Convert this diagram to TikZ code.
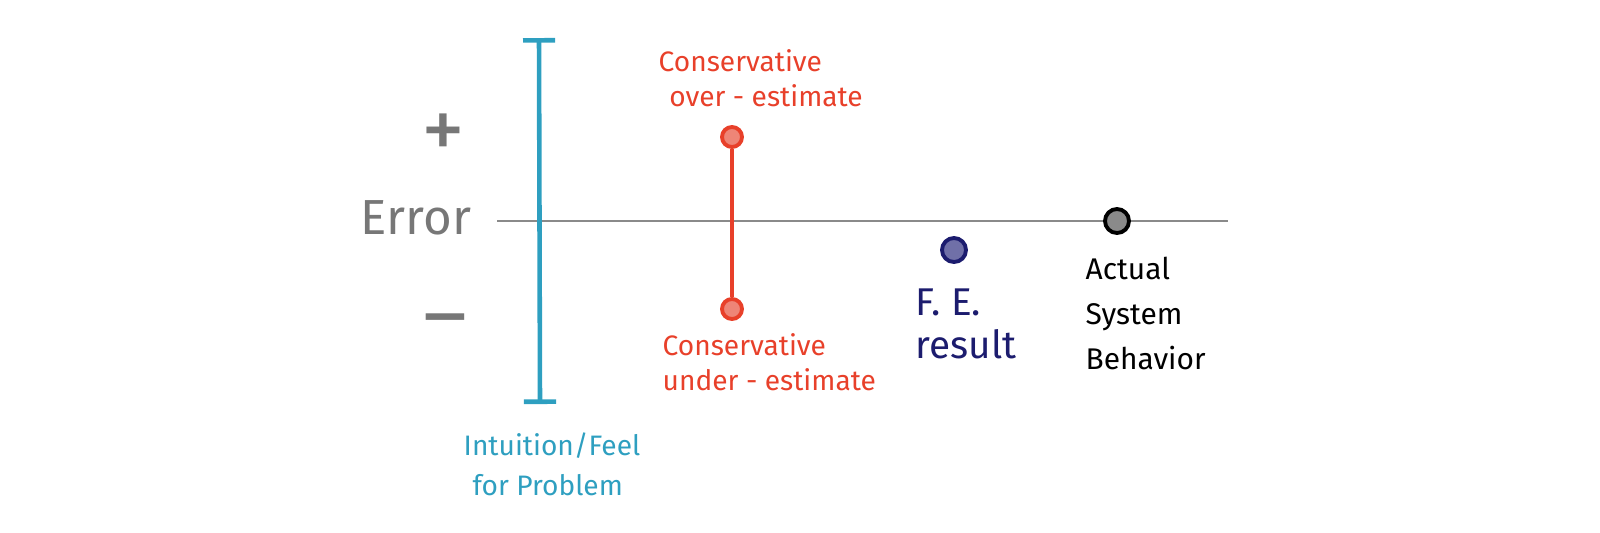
\documentclass[tikz,border=0pt]{standalone}
\usepackage{fontspec}
\setmainfont{Fira Sans}
\usetikzlibrary{arrows.meta, positioning}
\definecolor{intblue}{HTML}{2E9FC0}
\definecolor{consred}{HTML}{E8402A}
\definecolor{consfill}{HTML}{EE8577}
\definecolor{fenavy}{HTML}{1C1C6E}
\definecolor{fefill}{HTML}{7070A8}
\definecolor{axgray}{HTML}{8A8A8A}
\definecolor{errgray}{HTML}{777777}

\begin{document}
\begin{tikzpicture}[x=0.01cm, y=-0.01cm,
    dot/.style={circle, inner sep=0pt, minimum size=0.2cm, line width=1.1pt},
    bigdot/.style={dot, minimum size=0.24cm},
    hand/.style={anchor=north west, align=left, inner sep=0pt}]
    \useasboundingbox (0,0) rectangle (1600,532);

    % Draw the error axis
    \coordinate (axl) at (497,221);
    \coordinate (axr) at (1228,221);
    \draw[axgray, line width=0.5pt] (axl) -- (axr);
    \node[errgray, font=\fontsize{14}{16}\selectfont] (err) at (416,218) {Error};
    \node[errgray, font=\fontsize{25}{27}\selectfont] (plus) at (443,137) {+};
    \node[errgray, font=\fontsize{24}{26}\selectfont] (minus) at (445,329) {–};

    % Draw the band of intuition
    \coordinate (itop) at (539,38);
    \coordinate (ibot) at (540,404);
    \draw[intblue, line width=1.3pt, {Bar[width=3.2mm]}-{Bar[width=3.2mm]}] (itop) -- (ibot);
    \node[hand, intblue, font=\fontsize{8}{12.3}\selectfont] (intu) at (463,432) {Intuition/Feel\\[-1pt]\hspace*{2.5pt}for Problem};

    % Draw the conservative estimates
    \node[dot, draw=consred, fill=consfill] (over) at (732,137) {};
    \node[dot, draw=consred, fill=consfill] (under) at (732,309) {};
    \draw[consred, line width=1.2pt] (over) -- (under);
    \node[hand, consred, font=\fontsize{8}{10}\selectfont] (overtxt) at (658,49) {Conservative\\\hspace*{3pt}over - estimate};
    \node[hand, consred, font=\fontsize{8}{10}\selectfont] (undertxt) at (662,333) {Conservative\\under - estimate};

    % Draw the F.E. result and the actual behavior
    \node[bigdot, draw=fenavy, fill=fefill] (fe) at (954,250) {};
    \node[hand, fenavy, font=\fontsize{11}{12.3}\selectfont] (fetxt) at (915,288) {F. E.\\result};
    \node[bigdot, draw=black, fill=axgray] (act) at (1117,221) {};
    \node[hand, black, font=\fontsize{8.5}{12.8}\selectfont] (acttxt) at (1085,256) {Actual\\System\\Behavior};
\end{tikzpicture}
\end{document}
